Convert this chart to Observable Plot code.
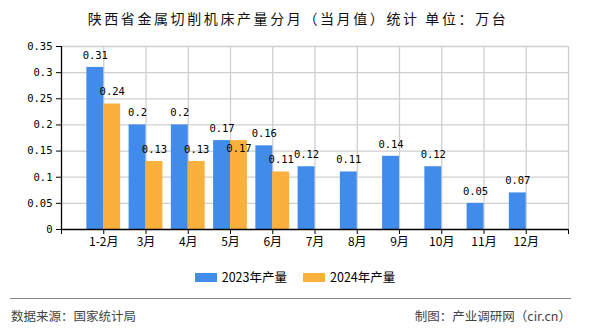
<!DOCTYPE html>
<html>
<head>
<meta charset="utf-8">
<script src="https://cdn.jsdelivr.net/npm/d3@7"></script>
<script src="https://cdn.jsdelivr.net/npm/@observablehq/plot@0.6"></script>
<style>
  html, body { margin: 0; padding: 0; background: #fff; }
  #wrap { position: relative; width: 590px; height: 330px; overflow: hidden; font-family: "Noto Sans CJK SC", "Liberation Sans", sans-serif; }
  #title { position: absolute; left: 0; width: 596px; top: 8px; text-align: center; font-size: 14px; letter-spacing: 2.6px; color: #111; line-height: 20px; }
  #chart { position: absolute; left: 0; top: 0; }
  #legend { position: absolute; left: 0; top: 268px; width: 590px; display: flex; justify-content: center; align-items: center; font-size: 12.5px; color: #000; line-height: 18px; }
  .item { display: flex; align-items: center; margin: 0 8px; }
  .sw { width: 22px; height: 9px; margin-right: 5px; }
  #rule { position: absolute; left: 10px; width: 561px; top: 298px; height: 0; border-top: 1px solid #888; }
  #src { position: absolute; left: 11px; top: 307px; font-size: 12.5px; color: #444; line-height: 18px; }
  #made { position: absolute; right: 19px; top: 307px; font-size: 12.5px; color: #444; line-height: 18px; }
</style>
</head>
<body>
<div id="wrap">
  <div id="title"></div>
  <div id="chart"></div>
  <div id="legend"></div>
  <div id="rule"></div>
  <div id="src"></div>
  <div id="made"></div>
</div>
<script>
const titleText = "陕西省金属切削机床产量分月（当月值）统计 单位：万台";
const categories = ["1-2月", "3月", "4月", "5月", "6月", "7月", "8月", "9月", "10月", "11月", "12月"];
const series2023 = [0.31, 0.2, 0.2, 0.17, 0.16, 0.12, 0.11, 0.14, 0.12, 0.05, 0.07];
const series2024 = [0.24, 0.13, 0.13, 0.17, 0.11];
const seriesNames = ["2023年产量", "2024年产量"];
const colors = ["#418BEB", "#FBB03E"];
const yTicks = [0, 0.05, 0.1, 0.15, 0.2, 0.25, 0.3, 0.35];
const yTickLabels = ["0", "0.05", "0.1", "0.15", "0.2", "0.25", "0.3", "0.35"];
const sourceText = "数据来源：国家统计局";
const madeText = "制图：产业调研网（cir.cn）";

document.getElementById("title").textContent = titleText;
document.getElementById("src").textContent = sourceText;
document.getElementById("made").textContent = madeText;

const rows = [];
categories.forEach((c, i) => {
  const v24 = i < series2024.length ? series2024[i] : null;
  rows.push({cat: c, pos: i + 1, series: 0, value: series2023[i], clash: false});
  if (v24 != null) rows.push({cat: c, pos: i + 1, series: 1, value: v24, clash: v24 === series2023[i]});
});

const n = categories.length;
const positions = d3.range(0, n + 2);
const barW = 0.4;
const monoFont = "'DejaVu Sans Mono', monospace";
const labelX = d => d.series === 0 ? d.pos - barW / 2 : d.pos + barW / 2;

const chart = Plot.plot({
  width: 590,
  height: 330,
  marginLeft: 61,
  marginRight: 22,
  marginTop: 46,
  marginBottom: 101,
  x: {type: "linear", domain: [0, n + 1], axis: null},
  y: {domain: [0, 0.35], axis: null},
  style: {background: "transparent", overflow: "visible"},
  marks: [
    Plot.ruleY(yTicks.filter(d => d > 0), {stroke: "#cfcfcf", strokeWidth: 1.3}),
    Plot.ruleX(positions.filter(d => d > 0), {y1: 0, y2: 0.35, stroke: "#cfcfcf", strokeWidth: 1.3}),
    Plot.rect(rows, {
      x1: d => d.series === 0 ? d.pos - barW : d.pos,
      x2: d => d.series === 0 ? d.pos : d.pos + barW,
      y1: 0,
      y2: "value",
      fill: d => colors[d.series]
    }),
    Plot.text(rows.filter(d => !d.clash), {
      x: labelX,
      y: "value",
      text: d => String(d.value),
      dy: -12,
      fontSize: 10.5,
      fontFamily: monoFont,
      fill: "#000"
    }),
    Plot.text(rows.filter(d => d.clash), {
      x: labelX,
      y: "value",
      text: d => String(d.value),
      dy: 8,
      fontSize: 10.5,
      fontFamily: monoFont,
      fill: "#000"
    }),
    Plot.ruleY([0], {x1: 0, x2: n + 1, stroke: "#000", strokeWidth: 1.3}),
    Plot.ruleX([0], {y1: 0, y2: 0.35, stroke: "#000", strokeWidth: 1.3}),
    Plot.axisY(yTicks, {
      label: null,
      tickFormat: (d, i) => yTickLabels[i],
      tickSize: 5,
      tickPadding: 4,
      fontSize: 10.5,
      fontFamily: monoFont,
      color: "#000",
      stroke: "#000"
    }),
    Plot.axisX(positions, {
      label: null,
      tickFormat: d => (d >= 1 && d <= n) ? categories[d - 1] : "",
      tickSize: 5,
      tickPadding: 3,
      fontSize: 12,
      fontFamily: "'Noto Sans CJK SC', sans-serif",
      color: "#000",
      stroke: "#000"
    })
  ]
});
document.getElementById("chart").appendChild(chart);

const legend = document.getElementById("legend");
seriesNames.forEach((name, i) => {
  const item = document.createElement("div");
  item.className = "item";
  const sw = document.createElement("div");
  sw.className = "sw";
  sw.style.background = colors[i];
  const t = document.createElement("span");
  t.textContent = name;
  item.appendChild(sw);
  item.appendChild(t);
  legend.appendChild(item);
});
</script>
</body>
</html>
